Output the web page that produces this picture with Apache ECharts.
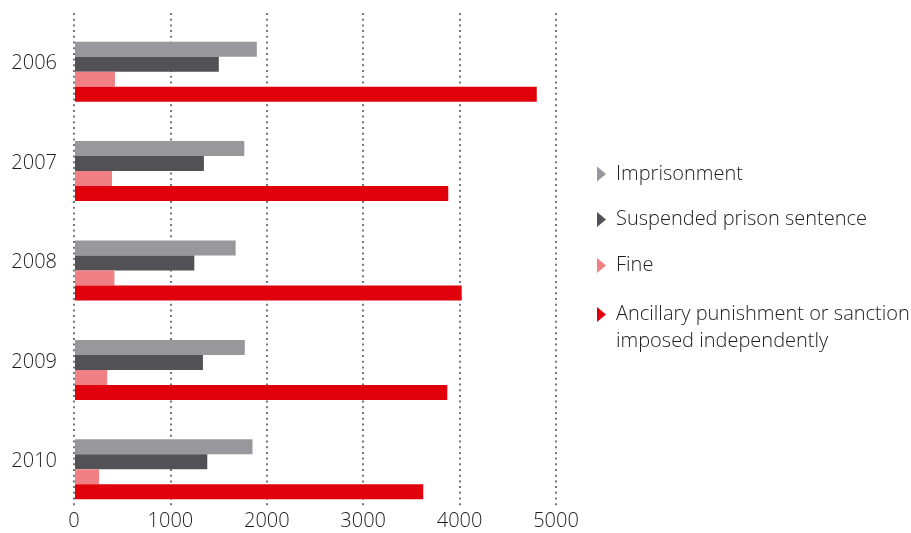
<!DOCTYPE html>
<html>
<head>
<meta charset="utf-8">
<style>
  html, body { margin: 0; padding: 0; background: #ffffff; }
  #chart { width: 911px; height: 533px; }
</style>
<script src="https://cdn.jsdelivr.net/npm/echarts@6/dist/echarts.min.js"></script>
</head>
<body>
<div id="chart"></div>
<script>
// Sentences handed down, by year and type
const years = ['2006', '2007', '2008', '2009', '2010'];
const imprisonment = [1890, 1760, 1670, 1765, 1845];
const suspended = [1495, 1340, 1240, 1330, 1375];
const fine = [415, 385, 410, 335, 250];
const ancillary = [4800, 3880, 4020, 3870, 3620];
const xTicks = [0, 1000, 2000, 3000, 4000, 5000];

const seriesNames = [
  'Imprisonment',
  'Suspended prison sentence',
  'Fine',
  'Ancillary punishment or sanction\nimposed independently'
];
const seriesColors = ['#98979c', '#525156', '#f08084', '#e0000b'];
const seriesData = [imprisonment, suspended, fine, ancillary];

const FONT = '"Open Sans", "Noto Sans", sans-serif';
const TEXT = '#1c1c1c';

// right-pointing triangle; the tall variant keeps the marker beside the first of two text lines
const triangle = 'path://M0,0L9,7.5L0,15Z';
const triangleTall = 'path://M0,0L9,7.5L0,15Z M0,42L0.01,42';

const chart = echarts.init(document.getElementById('chart'), null, { renderer: 'canvas' });

const legendTops = [160.5, 206, 252, 301];
const legends = seriesNames.map((name, i) => ({
  orient: 'vertical',
  left: 597,
  top: legendTops[i],
  padding: 0,
  itemWidth: 9,
  itemHeight: i === 3 ? 42 : 15,
  icon: i === 3 ? triangleTall : triangle,
  selectedMode: false,
  data: [{ name: name }],
  textStyle: {
    fontFamily: FONT,
    fontSize: 20,
    fontWeight: 300,
    color: TEXT,
    lineHeight: 27,
    padding: [0, 0, 0, 5]
  }
}));

chart.setOption({
  animation: false,
  backgroundColor: '#ffffff',
  legend: legends,
  grid: [
    // bars
    { left: 75, top: 22, width: 481, height: 497, containLabel: false },
    // dotted value grid and bottom labels
    { left: 74, top: 13, width: 482, height: 496, containLabel: false }
  ],
  xAxis: [
    {
      gridIndex: 0,
      type: 'value',
      min: xTicks[0],
      max: xTicks[xTicks.length - 1],
      interval: 1000,
      axisLine: { show: false },
      axisTick: { show: false },
      axisLabel: { show: false },
      splitLine: { show: false }
    },
    {
      gridIndex: 1,
      type: 'value',
      min: xTicks[0],
      max: xTicks[xTicks.length - 1],
      interval: 1000,
      axisLine: { show: false },
      axisTick: { show: false },
      axisLabel: {
        margin: 2,
        fontFamily: FONT,
        fontSize: 20,
        fontWeight: 300,
        color: TEXT,
        formatter: v => String(v)
      },
      splitLine: {
        show: true,
        lineStyle: { color: '#777777', width: 2, type: [2, 3.7] }
      }
    }
  ],
  yAxis: [
    {
      gridIndex: 0,
      type: 'category',
      data: years,
      inverse: true,
      axisLine: { show: false },
      axisTick: { show: false },
      splitLine: { show: false },
      axisLabel: {
        margin: 18,
        fontFamily: FONT,
        fontSize: 20,
        fontWeight: 300,
        color: TEXT,
        verticalAlign: 'bottom',
        lineHeight: 16
      }
    },
    {
      gridIndex: 1,
      type: 'category',
      data: years,
      show: false
    }
  ],
  series: seriesNames.map((name, i) => ({
    name: name,
    type: 'bar',
    xAxisIndex: 0,
    yAxisIndex: 0,
    data: seriesData[i],
    barWidth: 15,
    barGap: '0%',
    itemStyle: { color: seriesColors[i] },
    emphasis: { disabled: true }
  }))
});
</script>
</body>
</html>
